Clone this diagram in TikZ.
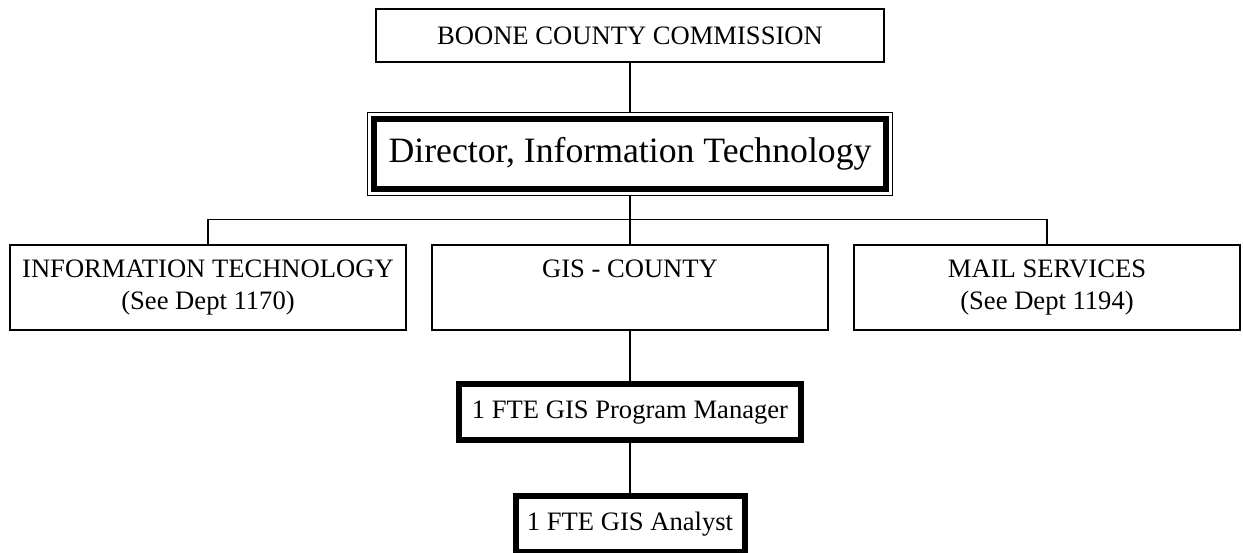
\documentclass[tikz,border=0pt]{standalone}
\usepackage{fontspec}
\setmainfont{Liberation Serif}
\usetikzlibrary{positioning,fit}
\tikzset{
    office/.style={rectangle,draw,line width=1pt,minimum width=254pt,minimum height=26.5pt,inner sep=0pt},
    head/.style={rectangle,draw,line width=3.3pt,minimum width=256pt,minimum height=35pt,inner sep=0pt,outer sep=0pt,font=\fontsize{17.85}{20}\selectfont},
    headframe/.style={rectangle,draw,line width=0.6pt,inner sep=3.25pt},
    unit/.style={rectangle,draw,line width=1pt,minimum width=198pt,minimum height=42.5pt,inner sep=0pt,align=center},
    staff/.style={rectangle,draw,line width=3pt,minimum height=28pt,inner sep=0pt},
    link/.style={-,line width=0.9pt}
}

\begin{document}
\begin{tikzpicture}[font=\fontsize{13.3}{16}\selectfont]

                \useasboundingbox (0,0) rectangle (621.5pt,-276pt);

                \node[office] (commission) at (315pt,-17.75pt) {BOONE COUNTY COMMISSION};
                \node[head] (director) [below=28pt of commission] {Director, Information Technology};
                \node[headframe, fit=(director)] (director frame) {}
                    edge[link] (commission);

                \node[unit] (gis)  [below=24pt of director frame] {GIS - COUNTY\\\vphantom{(}}
                    edge[link] (director frame);
                \node[unit] (it)   [left=12pt of gis]  {INFORMATION TECHNOLOGY\\(See Dept 1170)};
                \node[unit, minimum width=193pt] (mail) [right=12pt of gis] {MAIL SERVICES\\(See Dept 1194)};

                \coordinate[below=11.7pt of director frame] (bus);
                \draw[link] (it.north) |- (bus) -| (mail.north);

                \node[staff, minimum width=171pt]   (manager) [below=25pt of gis]     {1 FTE GIS Program Manager}
                    edge[link] (gis);
                \node[staff, minimum width=114.5pt] (analyst) [below=25pt of manager] {1 FTE GIS Analyst}
                    edge[link] (manager);

            \end{tikzpicture}
\end{document}
